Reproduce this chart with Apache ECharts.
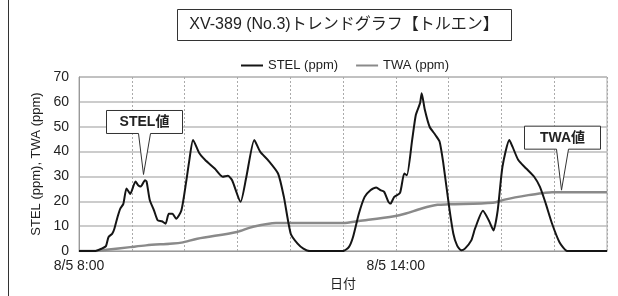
<!DOCTYPE html>
<html style="height: 100%">
<head>
<meta charset="utf-8">
<script src="https://cdn.jsdelivr.net/npm/echarts@6/dist/echarts.min.js"></script>
</head>
<body style="height: 100%; margin: 0; background: #fff">
<div id="container" style="width: 618px; height: 296px"></div>
<script type="text/javascript">
// time in hours (8 = 8/5 8:00)
var stelTime = [8.0, 8.3, 8.43, 8.51, 8.56, 8.63, 8.67, 8.73, 8.78, 8.84, 8.9, 8.97, 9.07, 9.12, 9.17, 9.25, 9.28, 9.34, 9.42, 9.49, 9.57, 9.64, 9.7, 9.77, 9.84, 9.94, 10.03, 10.09, 10.16, 10.28, 10.39, 10.57, 10.72, 10.82, 10.9, 11.06, 11.17, 11.32, 11.43, 11.58, 11.77, 11.88, 12.01, 12.14, 12.25, 12.37, 13.0, 13.11, 13.19, 13.3, 13.41, 13.52, 13.63, 13.71, 13.78, 13.86, 13.9, 13.97, 14.08, 14.16, 14.21, 14.31, 14.38, 14.46, 14.49, 14.55, 14.64, 14.75, 14.83, 14.9, 15.01, 15.09, 15.16, 15.24, 15.31, 15.43, 15.5, 15.65, 15.76, 15.85, 15.93, 16.02, 16.15, 16.21, 16.32, 16.47, 16.62, 16.73, 16.84, 16.96, 17.1, 17.25, 18.0];
var stelValue = [0, 0, 1, 2, 5.7, 7, 9, 13.7, 17, 19, 25.2, 23, 28, 26.5, 26, 28.5, 28, 20.5, 16.4, 12.4, 12, 11, 15, 15, 13, 16.4, 27.9, 36.6, 44.7, 39.3, 36.6, 33.2, 29.9, 30.3, 28.5, 19.8, 29.9, 44.7, 40, 36.6, 31.2, 21.8, 7, 3, 1, 0, 0, 1.6, 5.7, 15, 21.8, 24.5, 25.6, 24.5, 23.8, 19.8, 19.1, 21.8, 23.4, 31.2, 30.5, 44.7, 54.8, 59.5, 63.5, 56.8, 50, 46.7, 44, 35.3, 17.8, 7, 2.3, 0.3, 1, 4.3, 9, 16.2, 12.4, 8.3, 16.4, 33.9, 44.7, 42, 36.6, 33.2, 29.9, 25.8, 19.1, 11, 3.6, 0, 0];
var twaTime = [8.0, 8.3, 8.52, 8.97, 9.27, 9.72, 9.94, 10.24, 10.99, 11.28, 11.73, 13.0, 13.3, 13.97, 14.19, 14.49, 14.79, 15.01, 15.84, 16.06, 16.51, 16.81, 16.96, 18.0];
var twaValue = [0, 0, 0.5, 1.6, 2.3, 3, 3.4, 5, 7.7, 9.7, 11.3, 11.3, 12.1, 14, 15.1, 17.1, 18.6, 18.8, 19.4, 20.7, 22.5, 23.4, 23.7, 23.7];
var xLabels = {8: '8/5 8:00', 14: '8/5 14:00'};
var callouts = [
  {text: 'STEL値', x: 9.23, y: 30.8},
  {text: 'TWA値', x: 17.15, y: 24.5}
];

function zip(a, b) {
  var out = [];
  for (var i = 0; i < a.length; i++) out.push([a[i], b[i]]);
  return out;
}

var font = 'Liberation Sans, "Noto Sans CJK JP", sans-serif';
var dom = document.getElementById('container');
var myChart = echarts.init(dom);

var option = {
  backgroundColor: '#fff',
  animation: false,
  textStyle: {fontFamily: font, color: '#222'},
  legend: {
    left: 236,
    top: 54,
    icon: 'rect',
    itemWidth: 22,
    itemHeight: 2,
    itemGap: 18,
    textStyle: {fontSize: 13, color: '#222', fontFamily: font},
    data: ['STEL (ppm)', 'TWA (ppm)']
  },
  grid: {
    left: 79, right: 11, top: 77, bottom: 44,
    show: true, borderColor: '#aaa', borderWidth: 1
  },
  xAxis: {
    type: 'value',
    min: 8, max: 18, interval: 1,
    name: '日付',
    nameLocation: 'middle',
    nameGap: 26,
    nameTextStyle: {fontSize: 13, color: '#222'},
    axisLine: {lineStyle: {color: '#999'}},
    axisTick: {show: false},
    axisLabel: {
      fontSize: 14, color: '#222', margin: 8,
      formatter: function (v) { return xLabels[v] || ''; }
    },
    splitLine: {lineStyle: {color: '#aaa', type: [2, 2]}}
  },
  yAxis: {
    type: 'value',
    min: 0, max: 70, interval: 10,
    name: 'STEL (ppm), TWA (ppm)',
    nameLocation: 'middle',
    nameGap: 36,
    nameTextStyle: {fontSize: 13, color: '#222'},
    axisLine: {show: true, lineStyle: {color: '#999'}},
    axisTick: {show: false},
    axisLabel: {fontSize: 14, color: '#222', margin: 10},
    splitLine: {lineStyle: {color: '#bbb', width: 1.5}}
  },
  series: [{
    name: 'STEL (ppm)',
    type: 'line',
    data: zip(stelTime, stelValue),
    symbol: 'none',
    smooth: 0.2,
    z: 3,
    lineStyle: {color: '#151515', width: 2},
    itemStyle: {color: '#151515'}
  }, {
    name: 'TWA (ppm)',
    type: 'line',
    data: zip(twaTime, twaValue),
    symbol: 'none',
    smooth: 0.3,
    z: 2,
    lineStyle: {color: '#8a8a8a', width: 2.5},
    itemStyle: {color: '#8a8a8a'}
  }]
};
myChart.setOption(option);

// frame, title box and callouts
var g = [
  {type: 'line', shape: {x1: 8.5, y1: 0, x2: 8.5, y2: 296}, style: {stroke: '#333', lineWidth: 1}},
  {type: 'rect', shape: {x: 177.5, y: 9.5, width: 334, height: 31}, style: {fill: '#fff', stroke: '#333', lineWidth: 1}},
  {type: 'text', x: 344, y: 25, style: {text: 'XV-389 (No.3)トレンドグラフ【トルエン】', font: '16px ' + font, fill: '#222', textAlign: 'center', textVerticalAlign: 'middle'}}
];
callouts.forEach(function (c) {
  var p = myChart.convertToPixel({gridIndex: 0}, [c.x, c.y]);
  var cx = Math.round(p[0]) + 0.5, tip = p[1];
  var b = tip - 41, t = b - 23, l = cx - 38, r = cx + 38;
  g.push({
    type: 'polygon', z: 10,
    shape: {points: [[l, t], [r, t], [r, b], [cx + 6, b], [cx - 1, tip], [cx - 6, b], [l, b]]},
    style: {fill: '#fff', stroke: '#333', lineWidth: 1}
  });
  g.push({
    type: 'text', z: 11, x: cx, y: (t + b) / 2,
    style: {text: c.text, font: 'bold 14px ' + font, fill: '#222', textAlign: 'center', textVerticalAlign: 'middle'}
  });
});
myChart.setOption({graphic: g});
</script>
</body>
</html>
